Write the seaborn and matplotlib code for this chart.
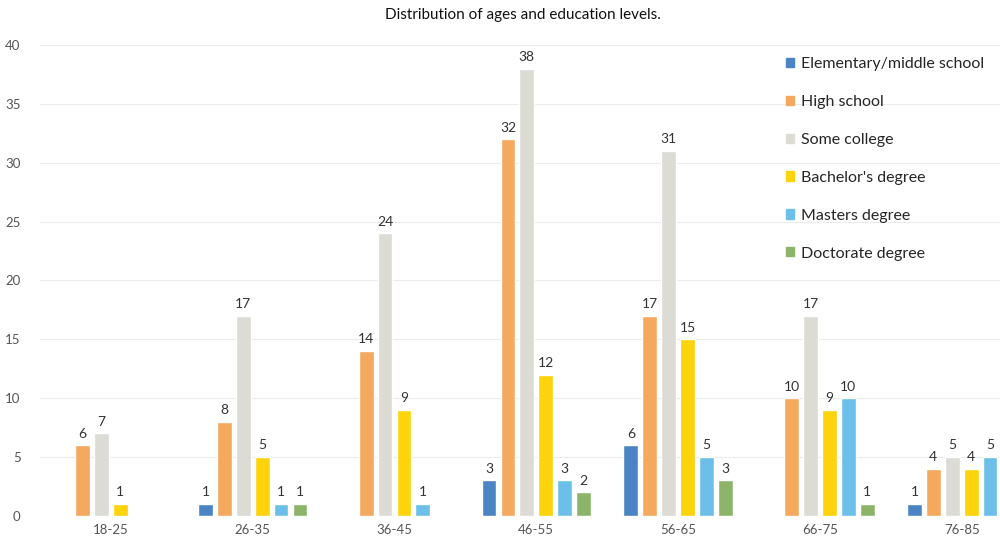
import pandas as pd
import seaborn as sns
import matplotlib.pyplot as plt

# values (0 = no bar drawn)
age_groups = ["18-25", "26-35", "36-45", "46-55", "56-65", "66-75", "76-85"]
levels = ["Elementary/middle school", "High school", "Some college",
          "Bachelor's degree", "Masters degree", "Doctorate degree"]
elementary = [0, 1, 0, 3, 6, 0, 1]
high_school = [6, 8, 14, 32, 17, 10, 4]
some_college = [7, 17, 24, 38, 31, 17, 5]
bachelors = [1, 5, 9, 12, 15, 9, 4]
masters = [0, 1, 1, 3, 5, 10, 5]
doctorate = [0, 1, 0, 2, 3, 1, 0]

colors = ["#4a84c4", "#f5a95e", "#dcdcd4", "#fdd30c", "#6cbfe8", "#8cb56a"]

series = [elementary, high_school, some_college, bachelors, masters, doctorate]
rows = []
for lvl, vals in zip(levels, series):
    for age, v in zip(age_groups, vals):
        rows.append({"Age": age, "Level": lvl, "Count": v})
df = pd.DataFrame(rows)

sns.set_theme(style="white")
plt.rcParams["font.family"] = ["Lato", "DejaVu Sans"]

fig = plt.figure(figsize=(10, 5.44), dpi=100)
ax = fig.add_axes([0.04, 0.052, 0.96, 0.865])

sns.barplot(data=df, x="Age", y="Count", hue="Level", hue_order=levels,
            palette=colors, saturation=1, width=0.8, gap=0.22, ax=ax,
            legend=False)

for cont in ax.containers:
    labs = [f"{int(b.get_height())}" if b.get_height() > 0 else "" for b in cont]
    ax.bar_label(cont, labels=labs, padding=4, fontsize=10, color="#333333")

ax.set_ylim(0, 40)
ax.set_yticks(range(0, 41, 5))
ax.set_xlim(-0.5, 6.27)
ax.set_xlabel("")
ax.set_ylabel("")
ax.yaxis.grid(True, color="#ececec", linewidth=0.8)
ax.set_axisbelow(True)
sns.despine(ax=ax, left=True, bottom=True)
ax.tick_params(axis="both", colors="#555555", labelsize=9.5, length=0)
ax.tick_params(axis="y", pad=14)
ax.tick_params(axis="x", pad=6)

fig.text(0.523, 0.972, "Distribution of ages and education levels.",
         ha="center", va="center", fontsize=11, color="#111111")

handles = [plt.Rectangle((0, 0), 1, 1, color=c) for c in colors]
fig.legend(handles, levels, loc="upper left", bbox_to_anchor=(0.772, 0.922),
           frameon=False, fontsize=11.5, labelspacing=1.5,
           handlelength=0.5, handleheight=0.5, handletextpad=0.4)

fig.savefig("out.png", dpi=100)
